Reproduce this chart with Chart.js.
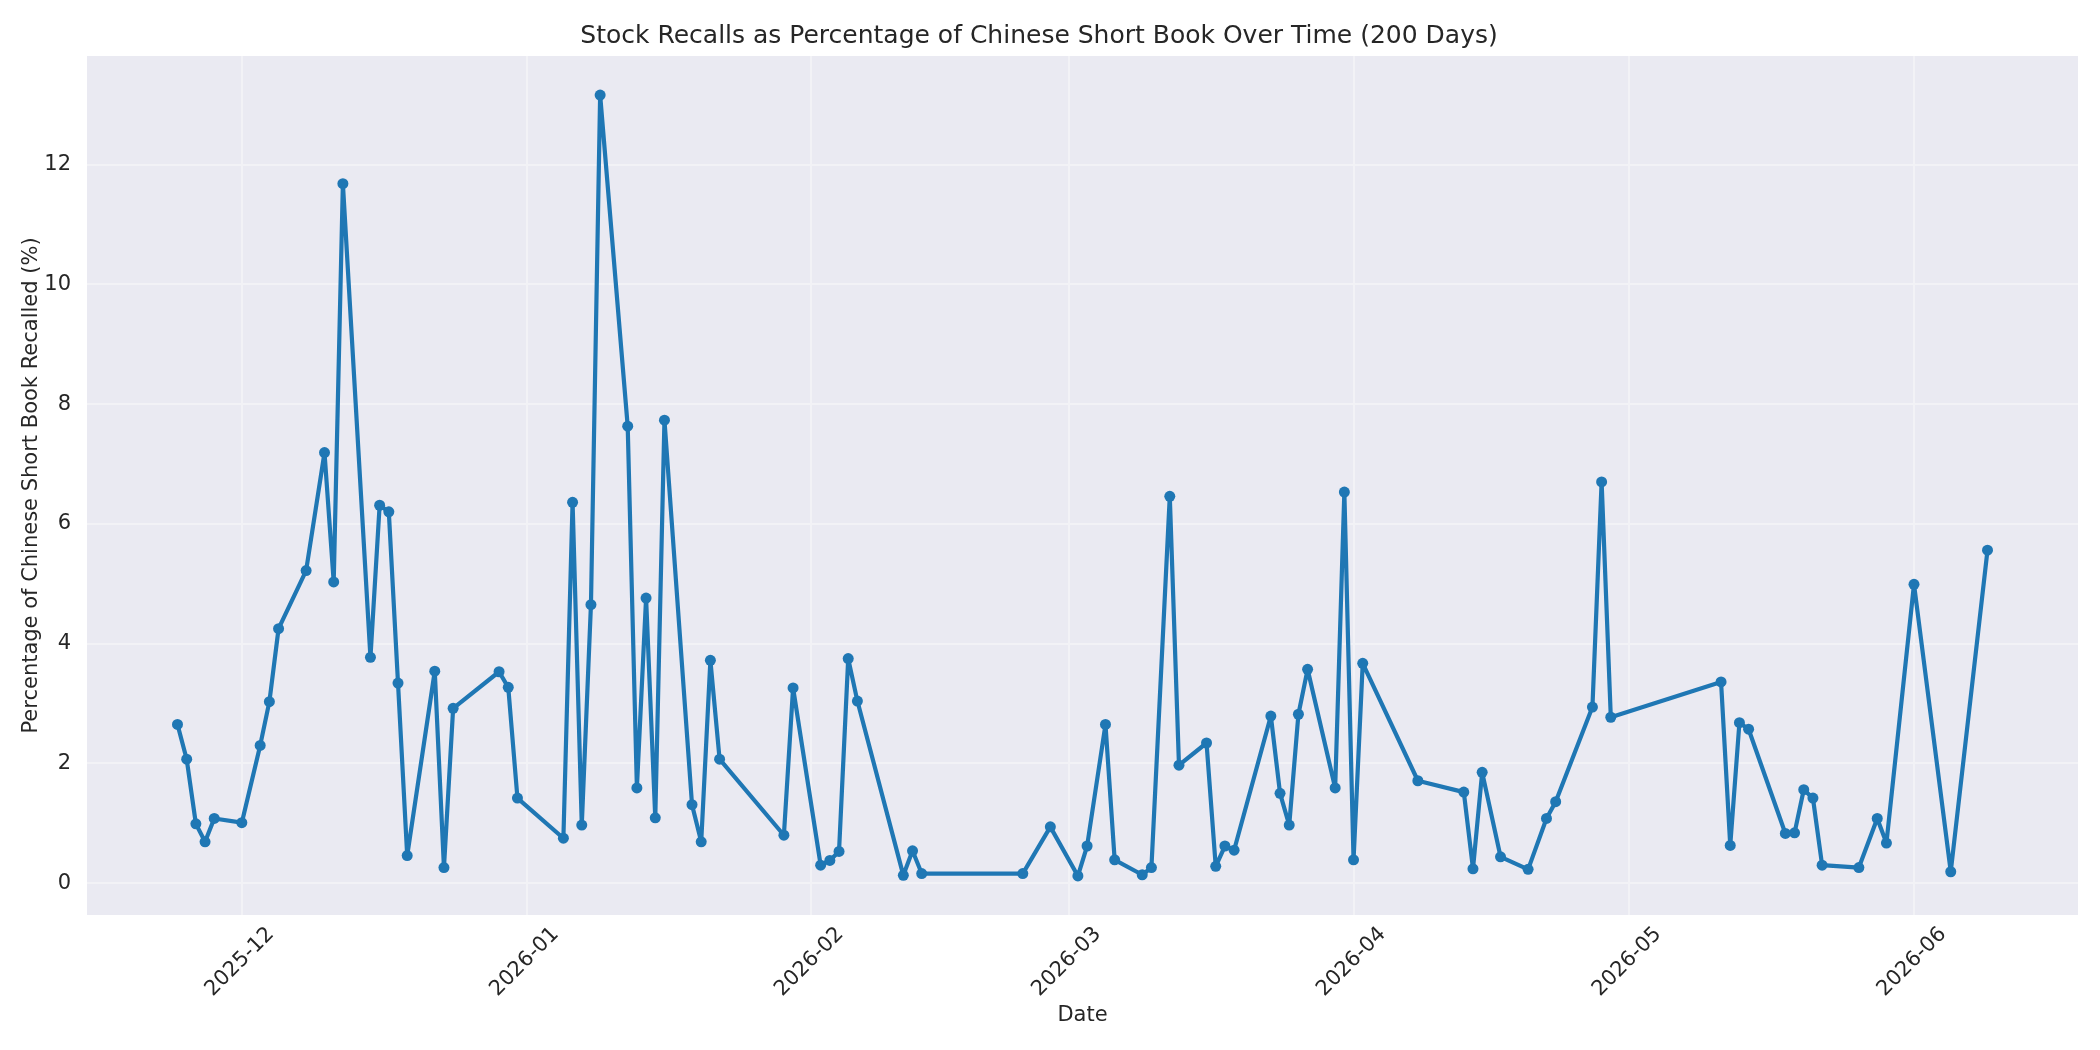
<!DOCTYPE html>
<html>
<head>
<meta charset="utf-8">
<script src="https://cdn.jsdelivr.net/npm/chart.js@4.4.1/dist/chart.umd.min.js"></script>
<style>
  html, body { margin: 0; padding: 0; background: #ffffff; }
  #wrap { width: 2100px; height: 1050px; }
</style>
</head>
<body>
<div id="wrap"><canvas id="c" width="2100" height="1050"></canvas></div>
<script>
// ---- data ----
const dates = [
  '2025-11-24','2025-11-25','2025-11-26','2025-11-27','2025-11-28',
  '2025-12-01','2025-12-03','2025-12-04','2025-12-05','2025-12-08',
  '2025-12-10','2025-12-11','2025-12-12','2025-12-15','2025-12-16',
  '2025-12-17','2025-12-18','2025-12-19','2025-12-22','2025-12-23',
  '2025-12-24','2025-12-29','2025-12-30','2025-12-31',
  '2026-01-05','2026-01-06','2026-01-07','2026-01-08','2026-01-09',
  '2026-01-12','2026-01-13','2026-01-14','2026-01-15','2026-01-16',
  '2026-01-19','2026-01-20','2026-01-21','2026-01-22','2026-01-29',
  '2026-01-30',
  '2026-02-02','2026-02-03','2026-02-04','2026-02-05','2026-02-06',
  '2026-02-11','2026-02-12','2026-02-13','2026-02-24','2026-02-27',
  '2026-03-02','2026-03-03','2026-03-05','2026-03-06','2026-03-09',
  '2026-03-10','2026-03-12','2026-03-13','2026-03-16','2026-03-17',
  '2026-03-18','2026-03-19','2026-03-23','2026-03-24','2026-03-25',
  '2026-03-26','2026-03-27','2026-03-30','2026-03-31',
  '2026-04-01','2026-04-02','2026-04-08','2026-04-13','2026-04-14',
  '2026-04-15','2026-04-17','2026-04-20','2026-04-22','2026-04-23',
  '2026-04-27','2026-04-28','2026-04-29',
  '2026-05-11','2026-05-12','2026-05-13','2026-05-14','2026-05-18',
  '2026-05-19','2026-05-20','2026-05-21','2026-05-22','2026-05-26',
  '2026-05-28','2026-05-29',
  '2026-06-01','2026-06-05','2026-06-09'
];
const recallPct = [
  2.65, 2.07, 0.99, 0.69, 1.08,
  1.01, 2.30, 3.03, 4.25, 5.22,
  7.19, 5.03, 11.68, 3.77, 6.31,
  6.20, 3.34, 0.46, 3.54, 0.26,
  2.92, 3.53, 3.27, 1.42,
  0.75, 6.36, 0.97, 4.65, 13.16,
  7.63, 1.59, 4.76, 1.09, 7.73,
  1.31, 0.69, 3.72, 2.07, 0.80,
  3.26,
  0.30, 0.38, 0.53, 3.75, 3.04,
  0.13, 0.54, 0.16, 0.16, 0.94,
  0.12, 0.62, 2.65, 0.39, 0.14,
  0.26, 6.46, 1.97, 2.34, 0.28,
  0.62, 0.55, 2.79, 1.50, 0.97,
  2.82, 3.57, 1.59, 6.53,
  0.39, 3.67, 1.71, 1.52, 0.24,
  1.85, 0.44, 0.23, 1.08, 1.36,
  2.94, 6.70, 2.77,
  3.36, 0.63, 2.68, 2.57, 0.83,
  0.84, 1.56, 1.42, 0.30, 0.26,
  1.08, 0.67,
  4.99, 0.19, 5.56
];
const monthTickLabels = ['2025-12','2026-01','2026-02','2026-03','2026-04','2026-05','2026-06'];
const yTickValues = [0, 2, 4, 6, 8, 10, 12];

// ---- helpers ----
const DAY_MS = 86400000;
const toDay = s => Date.parse(s) / DAY_MS;
const monthTickValues = monthTickLabels.map(m => toDay(m + '-01'));
const points = dates.map((d, i) => ({ x: toDay(d), y: recallPct[i] }));

const xs = points.map(p => p.x);
const xFirst = Math.min(...xs), xLast = Math.max(...xs);
const xPad = (xLast - xFirst) * 0.05;
const yLo = Math.min(...recallPct), yHi = Math.max(...recallPct);
const yPad = (yHi - yLo) * 0.05;

const TEXT = '#262626';
const FONT = 'DejaVu Sans';

const plotBg = {
  id: 'plotBg',
  beforeDraw(chart) {
    const { ctx, chartArea: a } = chart;
    ctx.save();
    ctx.fillStyle = '#EAEAF2';
    ctx.fillRect(a.left, a.top, a.right - a.left, a.bottom - a.top);
    ctx.restore();
  }
};

new Chart(document.getElementById('c'), {
  type: 'line',
  data: {
    datasets: [{
      data: points,
      borderColor: '#1f77b4',
      backgroundColor: '#1f77b4',
      borderWidth: 4.2,
      borderJoinStyle: 'round',
      borderCapStyle: 'round',
      pointRadius: 5.5,
      pointBackgroundColor: '#1f77b4',
      pointBorderColor: '#1f77b4',
      pointBorderWidth: 0,
      tension: 0,
      fill: false
    }]
  },
  options: {
    responsive: false,
    devicePixelRatio: 1,
    animation: false,
    layout: { padding: { left: 0, right: 22, top: 0, bottom: 0 } },
    plugins: {
      legend: { display: false },
      tooltip: { enabled: false },
      title: {
        display: true,
        text: 'Stock Recalls as Percentage of Chinese Short Book Over Time (200 Days)',
        color: TEXT,
        font: { family: FONT, size: 25, weight: 'normal' },
        padding: { top: 21, bottom: 5 }
      }
    },
    scales: {
      x: {
        type: 'linear',
        min: xFirst - xPad,
        max: xLast + xPad,
        afterBuildTicks: s => { s.ticks = monthTickValues.map(v => ({ value: v })); },
        afterFit: s => { s.height = 135; },
        ticks: {
          autoSkip: false,
          minRotation: 45,
          maxRotation: 45,
          padding: 7,
          labelOffset: 29,
          color: TEXT,
          font: { family: FONT, size: 21 },
          callback: (v, i) => monthTickLabels[i]
        },
        grid: { color: '#F2F2F6', lineWidth: 2, drawTicks: false },
        border: { display: false },
        title: {
          display: true,
          text: 'Date',
          color: TEXT,
          font: { family: FONT, size: 21 },
          padding: { top: 0, bottom: 22 }
        }
      },
      y: {
        type: 'linear',
        min: yLo - yPad,
        max: yHi + yPad,
        afterBuildTicks: s => { s.ticks = yTickValues.map(v => ({ value: v })); },
        afterFit: s => { s.width = 87; },
        ticks: {
          padding: 16,
          color: TEXT,
          font: { family: FONT, size: 21 },
          callback: v => String(v)
        },
        grid: { color: '#F2F2F6', lineWidth: 2, drawTicks: false },
        border: { display: false },
        title: {
          display: true,
          text: 'Percentage of Chinese Short Book Recalled (%)',
          color: TEXT,
          font: { family: FONT, size: 21 },
          padding: { top: 19, bottom: 0 }
        }
      }
    }
  },
  plugins: [plotBg]
});
</script>
</body>
</html>
